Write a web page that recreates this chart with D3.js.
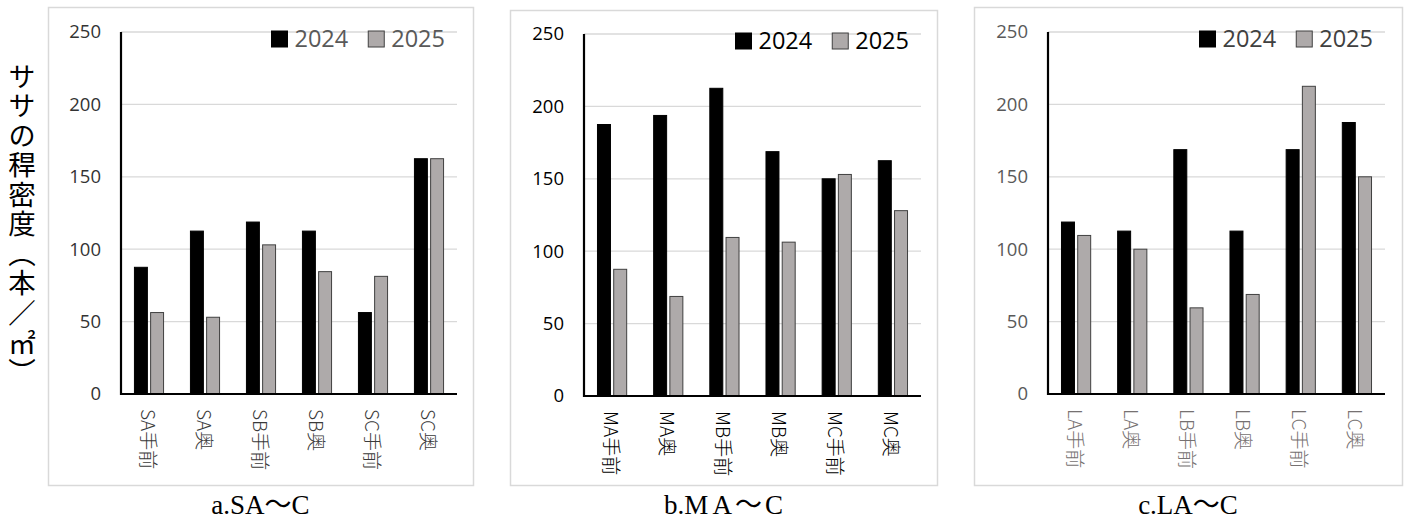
<!DOCTYPE html>
<html><head><meta charset="utf-8">
<script src="https://cdn.jsdelivr.net/npm/d3@7"></script>
<style>
html,body{margin:0;padding:0;background:#fff;}
svg{display:block;}
</style></head>
<body>
<svg id="chart" width="1410" height="523"></svg>
<script>
// ---- data ----
const seriesNames = ["2024", "2025"];
const yTicks = [0, 50, 100, 150, 200, 250];
const categoriesA = ["SA手前", "SA奥", "SB手前", "SB奥", "SC手前", "SC奥"];
const values2024A = [87.5, 112.5, 118.75, 112.5, 56.25, 162.5];
const values2025A = [56.25, 53, 103, 84.5, 81.25, 162.5];
const categoriesB = ["MA手前", "MA奥", "MB手前", "MB奥", "MC手前", "MC奥"];
const values2024B = [187.5, 193.75, 212.5, 168.75, 150, 162.5];
const values2025B = [87.5, 68.75, 109.5, 106.25, 153, 128];
const categoriesC = ["LA手前", "LA奥", "LB手前", "LB奥", "LC手前", "LC奥"];
const values2024C = [118.75, 112.5, 168.75, 112.5, 168.75, 187.5];
const values2025C = [109.5, 100, 59.5, 68.75, 212.5, 150];
const captions = ["a.SA～C", "b.MA～C", "c.LA～C"];
const yTitle = "ササの稈密度（本／㎡）";

// ---- layout / style ----
const panels = [
  {cats: categoriesA, v1: values2024A, v2: values2025A, cap: captions[0],
   frame: [48, 7, 473, 485], axisX: 121, right: 457, top: 32, zero: 394,
   tickColor: "#333333", legColor: "#595959", catColor: "#3a3a3a", capSpacing: 0},
  {cats: categoriesB, v1: values2024B, v2: values2025B, cap: captions[1],
   frame: [510, 10, 937, 485], axisX: 584, right: 921, top: 34, zero: 396,
   tickColor: "#000000", legColor: "#000000", catColor: "#000000", capSpacing: 1},
  {cats: categoriesC, v1: values2024C, v2: values2025C, cap: captions[2],
   frame: [974, 7, 1402, 485], axisX: 1048, right: 1385, top: 32, zero: 394,
   tickColor: "#595959", legColor: "#404040", catColor: "#767171", capSpacing: 0}
];
const fills = ["#000000", "#AEAAAA"];
const strokes = ["#000000", "#404040"];
const numFont = "'Open Sans', 'Liberation Sans', sans-serif";
const cjkFont = "'Noto Sans CJK JP', 'Open Sans', sans-serif";

const svg = d3.select("#chart");

panels.forEach(p => {
  const g = svg.append("g");
  const [fx0, fy0, fx1, fy1] = p.frame;
  g.append("rect").attr("x", fx0 + 0.5).attr("y", fy0 + 0.5)
    .attr("width", fx1 - fx0).attr("height", fy1 - fy0)
    .attr("fill", "none").attr("stroke", "#D9D9D9").attr("stroke-width", 1.5);

  const y = d3.scaleLinear().domain([0, 250]).range([p.zero, p.top]);
  const x = d3.scaleBand().domain(p.cats).range([p.axisX, p.right])
    .paddingInner(0.48).paddingOuter(0.24);
  const xs = d3.scaleBand().domain(seriesNames).range([0, x.bandwidth()]).paddingInner(0.2);

  // grid
  g.append("g").selectAll("line").data(yTicks.filter(t => t > 0)).join("line")
    .attr("x1", p.axisX).attr("x2", p.right)
    .attr("y1", d => y(d)).attr("y2", d => y(d))
    .attr("stroke", "#D9D9D9").attr("stroke-width", 1.3);

  // y axis (labels)
  const yAxis = d3.axisLeft(y).tickValues(yTicks).tickSize(0).tickPadding(20);
  const ya = g.append("g").attr("transform", `translate(${p.axisX},0)`).call(yAxis);
  ya.attr("font-size", null).attr("font-family", null);
  ya.select(".domain").remove();
  ya.selectAll("text").style("font-family", numFont).style("font-size", "18.5px")
    .attr("fill", p.tickColor);

  // bars
  const rows = p.cats.map((c, i) => ({cat: c, vals: [p.v1[i], p.v2[i]]}));
  const grp = g.append("g").selectAll("g").data(rows).join("g")
    .attr("transform", d => `translate(${x(d.cat)},0)`);
  grp.selectAll("rect").data(d => d.vals.map((v, j) => ({v, s: seriesNames[j], j})))
    .join("rect")
    .attr("x", d => xs(d.s)).attr("width", xs.bandwidth())
    .attr("y", d => y(d.v)).attr("height", d => y(0) - y(d.v))
    .attr("fill", d => fills[d.j]).attr("stroke", d => strokes[d.j]).attr("stroke-width", 1);

  // axes lines
  g.append("line").attr("x1", p.axisX).attr("x2", p.axisX)
    .attr("y1", p.top).attr("y2", p.zero + 1)
    .attr("stroke", "#000").attr("stroke-width", 2.2);
  const xAxis = d3.axisBottom(x).tickSize(0).tickFormat("");
  const xa = g.append("g").attr("transform", `translate(0,${p.zero})`).call(xAxis);
  xa.select(".domain").attr("stroke", "#000").attr("stroke-width", 2.2)
    .attr("d", `M${p.axisX},0H${p.right}`);

  // category labels (rotated)
  g.append("g").selectAll("text").data(p.cats).join("text")
    .attr("transform", d => `translate(${x(d) + x.bandwidth() / 2},${p.zero + 15}) rotate(90)`)
    .attr("dominant-baseline", "central")
    .attr("text-anchor", "start")
    .attr("font-family", cjkFont).attr("font-size", 19).attr("font-weight", 300)
    .attr("fill", p.catColor)
    .text(d => d);

  // legend (right aligned)
  const leg = g.append("g");
  const items = seriesNames.map((s, j) => {
    const it = leg.append("g");
    it.append("rect").attr("width", 16).attr("height", 16).attr("y", -16)
      .attr("fill", fills[j]).attr("stroke", strokes[j]).attr("stroke-width", 1);
    const t = it.append("text").attr("x", 23).attr("y", 0)
      .attr("font-family", numFont).attr("font-size", 23.5)
      .attr("fill", p.legColor).text(s);
    return {it, w: 23 + t.node().getComputedTextLength()};
  });
  let cx = p.right - 12;
  for (let j = items.length - 1; j >= 0; j--) {
    cx -= items[j].w;
    items[j].it.attr("transform", `translate(${cx},${p.top + 15})`);
    cx -= 20;
  }

  // caption
  const cap = g.append("text")
    .attr("x", (fx0 + fx1) / 2).attr("y", 514)
    .attr("text-anchor", "middle")
    .attr("font-family", "'Liberation Serif', 'Noto Sans CJK JP', serif")
    .attr("font-size", 27).attr("fill", "#000");
  if (p.capSpacing) {
    const s = p.cap;
    cap.append("tspan").text(s.slice(0, 3));
    cap.append("tspan").attr("dx", 4).text(s.slice(3, 4));
    cap.append("tspan").attr("dx", 3).text(s.slice(4, 5));
    cap.append("tspan").attr("dx", 3).text(s.slice(5));
  } else {
    cap.text(p.cap);
  }
});

// y-axis title (vertical)
svg.append("text")
  .attr("x", 22).attr("y", 225)
  .attr("text-anchor", "middle")
  .style("writing-mode", "vertical-rl")
  .style("letter-spacing", "2px")
  .attr("font-family", cjkFont).attr("font-size", 27.5)
  .attr("fill", "#000")
  .text(yTitle);
</script>
</body></html>
